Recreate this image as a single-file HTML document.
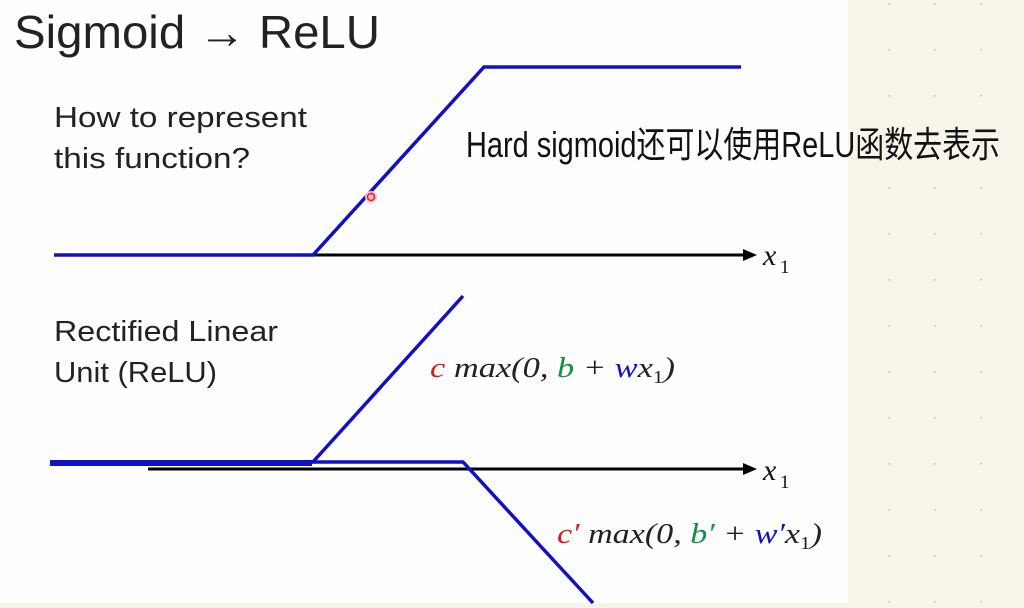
<!DOCTYPE html>
<html><head><meta charset="utf-8"><style>
html,body{margin:0;padding:0;background:#fff;}
svg{display:block;}
</style></head><body>
<svg width="1024" height="608" viewBox="0 0 1024 608" xmlns="http://www.w3.org/2000/svg">
<defs>
<pattern id="dots" x="866" y="3" width="46" height="46" patternUnits="userSpaceOnUse">
<circle cx="23" cy="0.5" r="1.2" fill="#c9c6bc"/>
</pattern>
</defs>
<rect width="1024" height="608" fill="#fefefe"/>
<rect x="848" y="0" width="176" height="608" fill="#f7f4ea"/>
<rect x="848" y="0" width="176" height="608" fill="url(#dots)"/>
<rect x="0" y="603" width="1024" height="5" fill="#f7f4ea"/>

<text x="14" y="48" font-family="Liberation Sans, sans-serif" font-size="46" fill="#222" textLength="366" lengthAdjust="spacingAndGlyphs">Sigmoid → ReLU</text>
<text x="54" y="127" font-family="Liberation Sans, sans-serif" font-size="29" fill="#222" textLength="253" lengthAdjust="spacingAndGlyphs">How to represent</text>
<text x="54" y="168" font-family="Liberation Sans, sans-serif" font-size="29" fill="#222" textLength="196" lengthAdjust="spacingAndGlyphs">this function?</text>
<text x="54" y="341" font-family="Liberation Sans, sans-serif" font-size="29" fill="#222" textLength="224" lengthAdjust="spacingAndGlyphs">Rectified Linear</text>
<text x="54" y="382" font-family="Liberation Sans, sans-serif" font-size="29" fill="#222" textLength="163" lengthAdjust="spacingAndGlyphs">Unit (ReLU)</text>

<line x1="148" y1="255" x2="745" y2="255" stroke="#000" stroke-width="3"/>
<polygon points="757,255 743,249 743,261" fill="#000"/>
<polyline points="54,255 313,255 484,67 741,67" fill="none" stroke="#1010c8" stroke-width="3.5"/>
<circle cx="371" cy="197" r="6" fill="#f6c0c0"/>
<circle cx="371" cy="197" r="3.5" fill="none" stroke="#e02020" stroke-width="1.5"/>
<text x="763" y="265" font-family="Liberation Serif, serif" font-style="italic" font-size="30" fill="#111">x</text>
<text x="780" y="273" font-family="Liberation Serif, serif" font-size="19" fill="#111">1</text>

<line x1="148" y1="469" x2="745" y2="469" stroke="#000" stroke-width="3"/>
<polygon points="757,469 743,463 743,475" fill="#000"/>
<line x1="50" y1="463" x2="312" y2="463" stroke="#1010c8" stroke-width="6"/>
<line x1="312" y1="463" x2="463" y2="296" stroke="#1010c8" stroke-width="3.5"/>
<polyline points="148,462 463,462 593,603" fill="none" stroke="#1010c8" stroke-width="3.5"/>
<text x="763" y="480" font-family="Liberation Serif, serif" font-style="italic" font-size="30" fill="#111">x</text>
<text x="780" y="488" font-family="Liberation Serif, serif" font-size="19" fill="#111">1</text>

<text x="430" y="377" font-family="Liberation Serif, serif" font-style="italic" font-size="29" fill="#222" textLength="245" lengthAdjust="spacingAndGlyphs"><tspan fill="#d02010">c</tspan> max(0, <tspan fill="#119040">b</tspan> + <tspan fill="#1010c8">w</tspan>x<tspan font-size="18" font-style="normal" dy="6">1</tspan><tspan dy="-6">)</tspan></text>
<text x="557" y="543" font-family="Liberation Serif, serif" font-style="italic" font-size="29" fill="#222" textLength="265" lengthAdjust="spacingAndGlyphs"><tspan fill="#d02010">c′</tspan> max(0, <tspan fill="#119040">b′</tspan> + <tspan fill="#1010c8">w′</tspan>x<tspan font-size="18" font-style="normal" dy="6">1</tspan><tspan dy="-6">)</tspan></text>

<text x="466" y="157" font-family="Liberation Sans, 'Noto Sans CJK SC', sans-serif" font-size="36" fill="#111" textLength="534" lengthAdjust="spacingAndGlyphs">Hard  sigmoid还可以使用ReLU函数去表示</text>
</svg>
</body></html>
